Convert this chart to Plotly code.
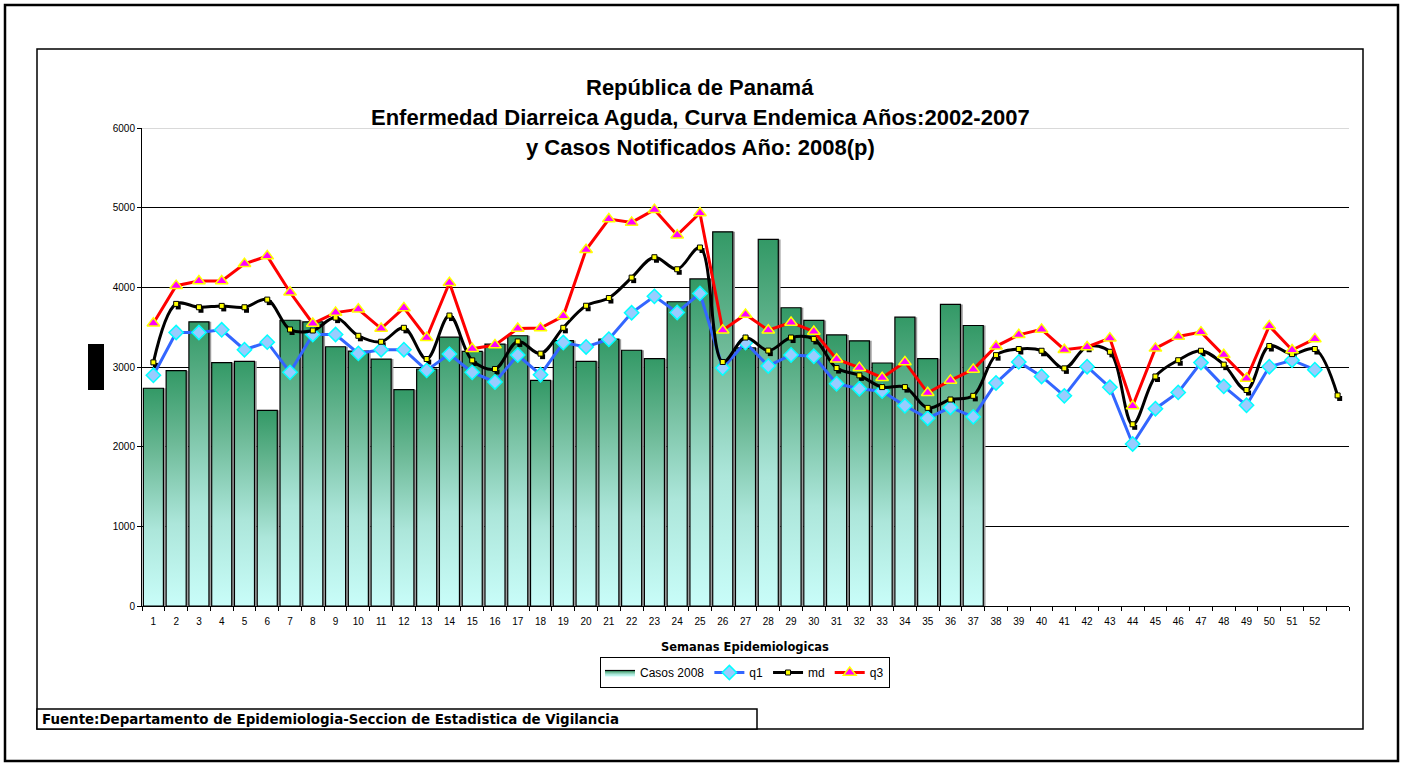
import plotly.graph_objects as go

# ---------------- data ----------------
weeks = list(range(1, 54))
tick_labels = [str(i) for i in range(1, 53)]

casos_2008 = [2733, 2954, 3567, 3054, 3071, 2456, 3587, 3567, 3254, 3200,
              3100, 2715, 2975, 3375, 3196, 3288, 3392, 2833, 3332, 3071,
              3349, 3210, 3105, 3819, 4105, 4697, 3240, 4601, 3744, 3584,
              3403, 3328, 3050, 3626, 3105, 3786, 3521]

q1 = [2896, 3433, 3433, 3467, 3217, 3312, 2933, 3408, 3408, 3171,
      3217, 3217, 2958, 3162, 2933, 2812, 3150, 2903, 3307, 3252,
      3349, 3681, 3887, 3685, 3924, 2987, 3307, 3013, 3151, 3134,
      2790, 2727, 2697, 2513, 2357, 2492, 2374, 2800, 3064, 2881,
      2638, 3004, 2745, 2034, 2477, 2681, 3055, 2757, 2519, 3004,
      3085, 2966]

md = [3058, 3792, 3750, 3767, 3750, 3846, 3471, 3458, 3620, 3392,
      3317, 3492, 3100, 3646, 3083, 2975, 3321, 3168, 3492, 3769,
      3866, 4122, 4378, 4227, 4500, 3063, 3370, 3206, 3370, 3353,
      2987, 2895, 2748, 2748, 2487, 2592, 2638, 3149, 3226, 3204,
      2983, 3255, 3191, 2281, 2881, 3085, 3204, 3030, 2711, 3264,
      3162, 3226, 2643]

q3 = [3550, 4021, 4079, 4079, 4296, 4392, 3938, 3546, 3683, 3725,
      3483, 3742, 3367, 4058, 3229, 3275, 3483, 3488, 3639, 4471,
      4857, 4815, 4975, 4655, 4933, 3462, 3660, 3462, 3559, 3445,
      3097, 2992, 2866, 3063, 2676, 2832, 2970, 3260, 3404, 3472,
      3217, 3251, 3362, 2511, 3234, 3383, 3438, 3153, 2855, 3515,
      3213, 3353]

title_lines = ["República de Panamá",
               "Enfermedad Diarreica Aguda, Curva Endemica Años:2002-2007",
               "y Casos Notificados Año: 2008(p)"]
x_title = "Semanas Epidemiologicas"
source_text = "Fuente:Departamento de Epidemiologia-Seccion de Estadistica de Vigilancia"

# ---------------- layout geometry ----------------
W, H = 1404, 767
L, R, T, B = 142, 1349, 128, 606
PW, PH = R - L, B - T


def px_x(x):
    return (x - L) / PW


def px_y(y):
    return (B - y) / PH


FONT = "Liberation Sans, Arial, sans-serif"
WIDE = "DejaVu Sans, Verdana, sans-serif"
bar_w = 0.88
bar_scale = [[0, "#c9fdf9"], [0.35, "#ace6da"], [0.7, "#6cb996"], [1, "#339966"]]

fig = go.Figure()

case_weeks = weeks[:len(casos_2008)]

# bar shadow (grey, offset right)
fig.add_trace(go.Bar(
    x=case_weeks, y=casos_2008, width=bar_w, offset=-bar_w / 2 + 0.1,
    marker=dict(color="#9c9c9c", line=dict(width=0)),
    showlegend=False, hoverinfo="skip"))

# gradient bars built from the data values
for i, (w, v) in enumerate(zip(case_weeks, casos_2008)):
    fig.add_trace(go.Scatter(
        x=[w - bar_w / 2, w + bar_w / 2, w + bar_w / 2, w - bar_w / 2, w - bar_w / 2],
        y=[0, 0, v, v, 0],
        mode="lines", fill="toself",
        fillgradient=dict(type="vertical", colorscale=bar_scale),
        line=dict(color="black", width=1.2),
        name="Casos 2008", legendgroup="casos", showlegend=(i == 0),
        hoverinfo="skip"))

# md marker shadows (shifted axes)
fig.add_trace(go.Scatter(
    x=weeks, y=md, mode="markers", xaxis="x2", yaxis="y2",
    marker=dict(symbol="square", size=5, color="black"),
    showlegend=False, hoverinfo="skip"))

fig.add_trace(go.Scatter(
    x=weeks[:len(q1)], y=q1, name="q1", mode="lines+markers",
    xaxis="x3", yaxis="y3",
    line=dict(color="#3366ff", width=3),
    marker=dict(symbol="diamond", size=11, color="#99ccff",
                line=dict(color="#00ffff", width=1.5))))

fig.add_trace(go.Scatter(
    x=weeks, y=md, name="md", mode="lines+markers",
    xaxis="x3", yaxis="y3",
    line=dict(color="black", width=3, shape="spline", smoothing=1),
    marker=dict(symbol="square", size=5, color="#ffff00",
                line=dict(color="black", width=1))))

fig.add_trace(go.Scatter(
    x=weeks[:len(q3)], y=q3, name="q3", mode="lines+markers",
    xaxis="x3", yaxis="y3",
    line=dict(color="#ff0000", width=3),
    marker=dict(symbol="triangle-up", size=11, color="#ff00ff",
                line=dict(color="#ffff00", width=1.5))))

xr = [0.5, 53.5]
yr = [0, 6000]
dx = 0.09
dy = 38

shapes = [
    # outer border
    dict(type="rect", xref="paper", yref="paper",
         x0=px_x(5), x1=px_x(1398), y0=px_y(5), y1=px_y(761),
         line=dict(color="black", width=2.5), layer="below"),
    # inner chart frame
    dict(type="rect", xref="paper", yref="paper",
         x0=px_x(37), x1=px_x(1363), y0=px_y(49), y1=px_y(729),
         line=dict(color="black", width=1.5), layer="below"),
    # source box
    dict(type="rect", xref="paper", yref="paper",
         x0=px_x(37), x1=px_x(757), y0=px_y(709), y1=px_y(729),
         line=dict(color="black", width=1.5), fillcolor="white", layer="above"),
    # y-axis title placeholder block
    dict(type="rect", xref="paper", yref="paper",
         x0=px_x(88), x1=px_x(104), y0=px_y(344), y1=px_y(390),
         line=dict(width=0), fillcolor="black", layer="above"),
    # light top gridline
    dict(type="line", xref="paper", yref="y",
         x0=0, x1=1, y0=6000, y1=6000,
         line=dict(color="#d9d9d9", width=2), layer="above"),
]

annotations = []
for txt, yy in zip(title_lines, [87, 117, 147]):
    annotations.append(dict(
        text=f"<b>{txt}</b>", xref="paper", yref="paper",
        x=px_x(700), y=px_y(yy), xanchor="center", yanchor="middle",
        showarrow=False, font=dict(family=FONT, size=22, color="black")))

annotations.append(dict(
    text=f"<b>{x_title}</b>", xref="paper", yref="paper",
    x=px_x(745), y=px_y(647), xanchor="center", yanchor="middle",
    showarrow=False, font=dict(family=WIDE, size=11.5, color="black")))

annotations.append(dict(
    text=f"<b>{source_text}</b>", xref="paper", yref="paper",
    x=px_x(40), y=px_y(719), xanchor="left", yanchor="middle",
    showarrow=False, font=dict(family=WIDE, size=13.4, color="black")))

fig.update_layout(
    width=W, height=H, autosize=False,
    margin=dict(l=L, r=W - R, t=T, b=H - B, pad=0),
    paper_bgcolor="white", plot_bgcolor="white",
    barmode="overlay",
    font=dict(family=FONT, size=10, color="black"),
    showlegend=True,
    legend=dict(orientation="h", x=px_x(745), xanchor="center",
                y=px_y(657), yanchor="top",
                bordercolor="black", borderwidth=1, bgcolor="white",
                font=dict(family=FONT, size=12, color="black"),
                itemclick=False, itemdoubleclick=False),
    xaxis=dict(range=xr, tickmode="array", tickvals=weeks[:52], ticktext=tick_labels,
               ticks="outside", ticklen=6, tickcolor="rgba(0,0,0,0)",
               minor=dict(tickmode="linear", tick0=0.5, dtick=1, ticks="outside",
                          ticklen=4, tickcolor="black", showgrid=False),
               showline=True, linecolor="black", linewidth=1,
               showgrid=False, zeroline=False,
               tickfont=dict(family=FONT, size=10, color="black")),
    yaxis=dict(range=yr, tick0=0, dtick=1000, ticks="outside", ticklen=4,
               tickcolor="black", showline=True, linecolor="black", linewidth=1,
               showgrid=True, gridcolor="black", gridwidth=1, zeroline=False,
               tickfont=dict(family=FONT, size=10, color="black")),
    xaxis2=dict(overlaying="x", range=[xr[0] - dx, xr[1] - dx], visible=False),
    yaxis2=dict(overlaying="y", range=[yr[0] + dy, yr[1] + dy], visible=False),
    xaxis3=dict(overlaying="x", range=xr, visible=False),
    yaxis3=dict(overlaying="y", range=yr, visible=False),
    shapes=shapes,
    annotations=annotations,
)

fig.write_html("out.html", config={"displayModeBar": False},
               post_script="document.body.style.margin='0px';")
